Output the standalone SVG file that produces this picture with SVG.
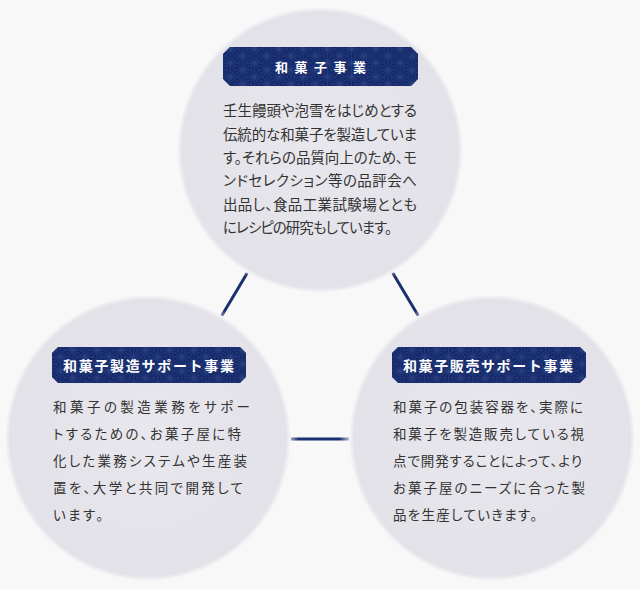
<svg xmlns="http://www.w3.org/2000/svg" width="640" height="589" viewBox="0 0 640 589">
<style>
.body{font-family:"Noto Sans CJK JP","Noto Sans CJK SC",sans-serif;fill:#333;font-feature-settings:"palt";}
.top{font-size:14.5px;}
.side{font-size:13.5px;}
.ban{font-family:"Noto Sans CJK JP","Noto Sans CJK SC",sans-serif;fill:#fff;font-weight:bold;}
.banshape{fill:#14296a;}
.banpat{fill:url(#asanoha);}
</style>
<defs>
<radialGradient id="cg" cx="0.5" cy="0.5" r="0.5">
<stop offset="0" stop-color="#e8e7ed"/>
<stop offset="0.9" stop-color="#e3e2e9"/>
<stop offset="0.965" stop-color="#e3e2e9"/>
<stop offset="1" stop-color="#f8f8f9"/>
</radialGradient>
<pattern id="asanoha" patternUnits="userSpaceOnUse" width="14" height="24.249" patternTransform="rotate(90)">
<path fill="none" stroke="#2e4282" stroke-width="0.7" d="M-7,0H21M-7,12.124H21M-7,24.249H21M0,0L7,12.124L0,24.249M14,0L7,12.124L14,24.249M0,0L-7,12.124L0,24.249M14,0L21,12.124L14,24.249M7,4.041L0,0M7,4.041L14,0M7,4.041L7,12.124M0,8.083L-7,12.124M0,8.083L7,12.124M0,8.083L0,0M14,8.083L7,12.124M14,8.083L21,12.124M14,8.083L14,0M7,20.207L0,24.249M7,20.207L14,24.249M7,20.207L7,12.124M0,16.166L-7,12.124M0,16.166L7,12.124M0,16.166L0,24.249M14,16.166L7,12.124M14,16.166L21,12.124M14,16.166L14,24.249"/>
</pattern>
<linearGradient id="l1" gradientUnits="userSpaceOnUse" x1="252" y1="265" x2="218" y2="322">
<stop offset="0" stop-color="#1b2f6e" stop-opacity="0"/>
<stop offset="0.2" stop-color="#1b2f6e"/>
<stop offset="0.8" stop-color="#1b2f6e"/>
<stop offset="1" stop-color="#1b2f6e" stop-opacity="0"/>
</linearGradient>
<linearGradient id="l2" gradientUnits="userSpaceOnUse" x1="388" y1="265" x2="422" y2="322">
<stop offset="0" stop-color="#1b2f6e" stop-opacity="0"/>
<stop offset="0.2" stop-color="#1b2f6e"/>
<stop offset="0.8" stop-color="#1b2f6e"/>
<stop offset="1" stop-color="#1b2f6e" stop-opacity="0"/>
</linearGradient>
<linearGradient id="l3" gradientUnits="userSpaceOnUse" x1="285" y1="439" x2="353" y2="439">
<stop offset="0" stop-color="#1b2f6e" stop-opacity="0"/>
<stop offset="0.2" stop-color="#1b2f6e"/>
<stop offset="0.8" stop-color="#1b2f6e"/>
<stop offset="1" stop-color="#1b2f6e" stop-opacity="0"/>
</linearGradient>
</defs>
<rect width="640" height="589" fill="#f8f8f9"/>
<g id="connectors" stroke-width="3" fill="none">
<line x1="252" y1="265" x2="218" y2="322" stroke="url(#l1)"/>
<line x1="388" y1="265" x2="422" y2="322" stroke="url(#l2)"/>
<line x1="285" y1="439" x2="353" y2="439" stroke="url(#l3)"/>
</g>
<g id="node-top">
<circle cx="320" cy="150" r="143" fill="url(#cg)"/>
<polygon class="banshape" points="230,47 411,47 418,54 418,79 411,86 230,86 223,79 223,54"/>
<polygon class="banpat" points="230,47 411,47 418,54 418,79 411,86 230,86 223,79 223,54"/>
<text class="ban" x="275" y="72" font-size="13" textLength="91" lengthAdjust="spacing">和菓子事業</text>
<text class="body top" x="223" y="116" textLength="194" lengthAdjust="spacing">壬生饅頭や泡雪をはじめとする</text>
<text class="body top" x="223" y="140" textLength="194" lengthAdjust="spacing">伝統的な和菓子を製造していま</text>
<text class="body top" x="223" y="163" textLength="194" lengthAdjust="spacing">す。それらの品質向上のため、モ</text>
<text class="body top" x="223" y="186" textLength="194" lengthAdjust="spacing">ンドセレクション等の品評会へ</text>
<text class="body top" x="223" y="210" textLength="194" lengthAdjust="spacing">出品し、食品工業試験場ととも</text>
<text class="body top" x="223" y="233" textLength="169" lengthAdjust="spacing">にレシピの研究もしています。</text>
</g>
<g id="node-left">
<circle cx="148" cy="438" r="143" fill="url(#cg)"/>
<polygon class="banshape" points="58,347 240,347 246,353 246,377 240,383 58,383 52,377 52,353"/>
<polygon class="banpat" points="58,347 240,347 246,353 246,377 240,383 58,383 52,377 52,353"/>
<text class="ban" x="63" y="371" font-size="14" textLength="171" lengthAdjust="spacing">和菓子製造サポート事業</text>
<text class="body side" x="53" y="412" textLength="197" lengthAdjust="spacing">和菓子の製造業務をサポー</text>
<text class="body side" x="53" y="439" textLength="188" lengthAdjust="spacing">トするための、お菓子屋に特</text>
<text class="body side" x="53" y="466" textLength="194" lengthAdjust="spacing">化した業務システムや生産装</text>
<text class="body side" x="53" y="493" textLength="190" lengthAdjust="spacing">置を、大学と共同で開発して</text>
<text class="body side" x="53" y="520" textLength="50" lengthAdjust="spacing">います。</text>
</g>
<g id="node-right">
<circle cx="492" cy="438" r="143" fill="url(#cg)"/>
<polygon class="banshape" points="398,347 580,347 586,353 586,377 580,383 398,383 392,377 392,353"/>
<polygon class="banpat" points="398,347 580,347 586,353 586,377 580,383 398,383 392,377 392,353"/>
<text class="ban" x="403" y="371" font-size="14" textLength="170" lengthAdjust="spacing">和菓子販売サポート事業</text>
<text class="body side" x="393" y="412" textLength="190" lengthAdjust="spacing">和菓子の包装容器を、実際に</text>
<text class="body side" x="393" y="439" textLength="191" lengthAdjust="spacing">和菓子を製造販売している視</text>
<text class="body side" x="393" y="466" textLength="189" lengthAdjust="spacing">点で開発することによって、より</text>
<text class="body side" x="393" y="493" textLength="192" lengthAdjust="spacing">お菓子屋のニーズに合った製</text>
<text class="body side" x="393" y="520" textLength="144" lengthAdjust="spacing">品を生産していきます。</text>
</g>
</svg>
